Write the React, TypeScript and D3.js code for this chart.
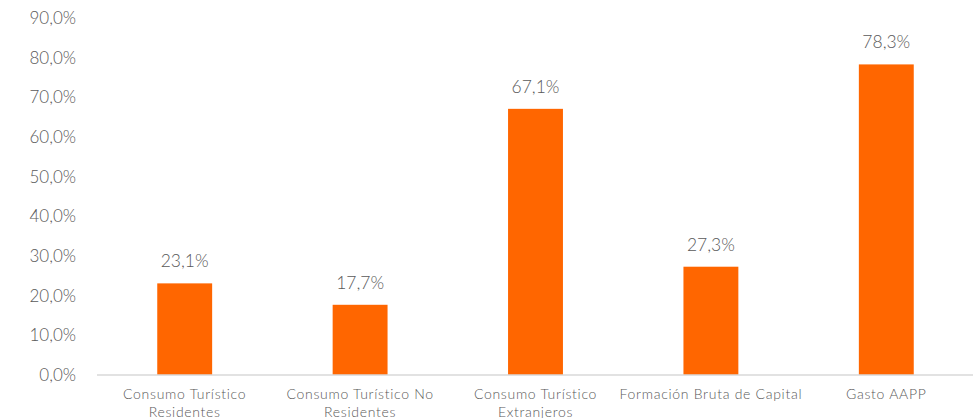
import * as d3 from 'd3';
import { useEffect, useRef } from 'react';

const categories = [
    'Consumo Turístico\nResidentes',
    'Consumo Turístico No\nResidentes',
    'Consumo Turístico\nExtranjeros',
    'Formación Bruta de Capital',
    'Gasto AAPP',
];
const values = [23.1, 17.7, 67.1, 27.3, 78.3];
const yTicks = [0, 10, 20, 30, 40, 50, 60, 70, 80, 90];

const fmt = (v: number) => v.toFixed(1).replace('.', ',') + '%';

export default function App() {
    const ref = useRef<SVGSVGElement>(null);

    const width = 973,
        height = 418;
    const margin = { top: 18, right: -1, bottom: 43, left: 97 };

    useEffect(() => {
        const root = d3.select(ref.current);
        root.selectAll('*').remove();

        const font = 'Lato, "Noto Sans", sans-serif';
        const textColor = '#595959';

        const x = d3
            .scaleBand()
            .domain(categories)
            .range([margin.left, width - margin.right])
            .paddingInner(0.687)
            .paddingOuter(0.3435);

        const y = d3
            .scaleLinear()
            .domain([0, 90])
            .range([height - margin.bottom, margin.top]);

        // y tick labels (no axis line)
        const yAxis = root
            .append('g')
            .attr('transform', `translate(${margin.left - 21},0)`)
            .call(d3.axisLeft(y).tickValues(yTicks).tickFormat((d) => fmt(+d)).tickSize(0).tickPadding(0));
        yAxis.select('.domain').remove();
        yAxis
            .selectAll('text')
            .attr('font-family', font)
            .attr('font-size', 17)
            .attr('font-weight', 300)
            .attr('fill', textColor);

        // bars
        root.append('g')
            .selectAll('rect')
            .data(values)
            .join('rect')
            .attr('x', (_, i) => x(categories[i])!)
            .attr('y', (d) => y(d))
            .attr('width', x.bandwidth())
            .attr('height', (d) => y(0) - y(d))
            .attr('fill', '#ff6600');

        // value labels
        root.append('g')
            .selectAll('text')
            .data(values)
            .join('text')
            .attr('x', (_, i) => x(categories[i])! + x.bandwidth() / 2)
            .attr('y', (d) => y(d) - 16)
            .attr('text-anchor', 'middle')
            .attr('font-family', font)
            .attr('font-size', 17.5)
            .attr('font-weight', 300)
            .attr('fill', textColor)
            .text((d) => fmt(d));

        // baseline
        root.append('line')
            .attr('x1', margin.left)
            .attr('x2', width)
            .attr('y1', y(0))
            .attr('y2', y(0))
            .attr('stroke', '#d9d9d9')
            .attr('stroke-width', 1.5);

        // category labels
        const cat = root
            .append('g')
            .selectAll('text')
            .data(categories)
            .join('text')
            .attr('text-anchor', 'middle')
            .attr('font-family', font)
            .attr('font-size', 14)
            .attr('letter-spacing', 0.7)
            .attr('font-weight', 300)
            .attr('fill', textColor);
        cat.each(function (d) {
            const t = d3.select(this);
            d.split('\n').forEach((line, j) => {
                t.append('tspan')
                    .attr('x', x(d)! + x.bandwidth() / 2)
                    .attr('y', y(0) + 24 + j * 17.5)
                    .text(line);
            });
        });
    }, []);

    return (
        <svg
            ref={ref}
            width={width}
            height={height}
            style={{ position: 'absolute', left: 0, top: 0, background: '#fff' }}
        />
    );
}
